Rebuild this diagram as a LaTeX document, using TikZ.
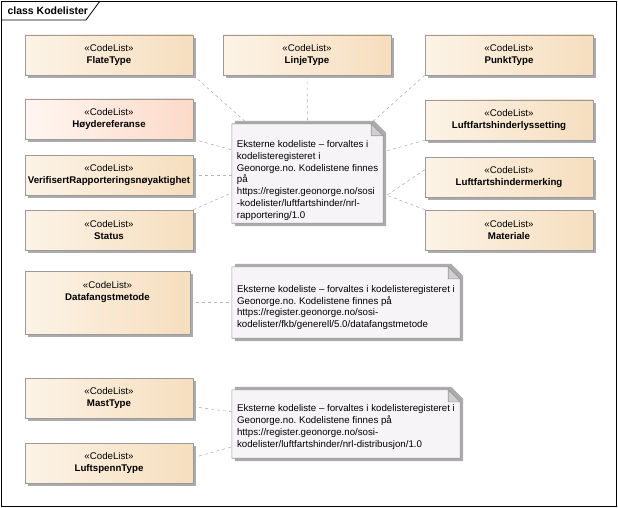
\documentclass[tikz,border=0pt]{standalone}
\usepackage{fontspec}
\setmainfont{Liberation Sans}
\usetikzlibrary{positioning,shadows,backgrounds,calc}
\definecolor{cClsL}{HTML}{FCF3E6}
\definecolor{cClsR}{HTML}{F6DEBE}
\definecolor{cRefL}{HTML}{FFF6F1}
\definecolor{cRefR}{HTML}{FCDAC8}
\definecolor{cBorder}{HTML}{9A9A9A}
\definecolor{cShadow}{HTML}{ABABAB}
\definecolor{cNote}{HTML}{F7F4F7}
\definecolor{cFold}{HTML}{D0D0D0}
\definecolor{cLink}{HTML}{B4B4B4}
\newcommand{\codelist}[1]{«CodeList»\\\textbf{#1}}
\newcommand{\toppad}[1]{\rule{0pt}{#1}}
\frenchspacing

\begin{document}
\begin{tikzpicture}[x=1pt, y=-1pt,
    font=\fontsize{9.7}{12.5}\selectfont,
    cls/.style={rectangle, draw=cBorder, line width=0.6pt,
      left color=cClsL, right color=cClsR,
      minimum width=168pt, minimum height=40pt, align=center, inner sep=2pt,
      drop shadow={shadow xshift=3pt, shadow yshift=-3pt, fill=cShadow, opacity=1}},
    ref/.style={cls, left color=cRefL, right color=cRefR},
    note/.style={rectangle, align=left, inner sep=0pt,
      font=\fontsize{9.7}{11.8}\selectfont},
    link/.style={draw=cLink, line width=0.6pt, dash pattern=on 3pt off 3pt}]

    \useasboundingbox (0,0) rectangle (618,508);
    \draw[line width=0.8pt] (1,1) rectangle (616,506);
    \draw[line width=0.8pt] (1,20) -- (86,20) -- (100,1);
    \node[anchor=west, font=\fontsize{10.5}{12}\selectfont\bfseries] (title) at (4,10.5) {class Kodelister};

    % left column
    \node[cls] (flate)  at (109,55)  {\codelist{FlateType}};
    \node[ref] (hoyde)  at (109,119) {\codelist{Høydereferanse}};
    \node[cls] (verif)  at (109,175) {\codelist{VerifisertRapporteringsnøyaktighet}};
    \node[cls] (status) at (109,230) {\codelist{Status}};
    \node[cls, minimum width=165pt, minimum height=63pt] (fangst) at (107.5,302.5)
      {\codelist{Datafangstmetode}\\\rule{0pt}{20pt}};
    \node[cls] (mast)   at (109,398) {\codelist{MastType}};
    \node[cls] (spenn)  at (109,463) {\codelist{LuftspennType}};

    % middle and right column
    \node[cls] (linje)  at (307,55)  {\codelist{LinjeType}};
    \node[cls] (punkt)  at (509,55)  {\codelist{PunktType}};
    \node[cls] (lys)    at (509,120) {\codelist{Luftfartshinderlyssetting}};
    \node[cls] (merk)   at (509,177) {\codelist{Luftfartshindermerking}};
    \node[cls] (mat)    at (509,230) {\codelist{Materiale}};

    % notes
    \node[note, minimum width=151pt, minimum height=99pt] (nrap) at (307.5,173.5)
      {\toppad{21pt}Eksterne kodeliste – forvaltes i\\ kodelisteregisteret i\\ Geonorge.no. Kodelistene finnes\\ på\\
       https://register.geonorge.no/sosi\\ -kodelister/luftfartshinder/nrl-\\ rapportering/1.0};
    \node[note, minimum width=228pt, minimum height=71pt] (nfkb) at (346,302.5)
      {\toppad{17pt}Eksterne kodeliste – forvaltes i kodelisteregisteret i\\ Geonorge.no. Kodelistene finnes på\\
       https://register.geonorge.no/sosi-\\ kodelister/fkb/generell/5.0/datafangstmetode};
    \node[note, minimum width=228pt, minimum height=68pt] (ndist) at (346,424)
      {\toppad{13pt}Eksterne kodeliste – forvaltes i kodelisteregisteret i\\ Geonorge.no. Kodelistene finnes på\\
       https://register.geonorge.no/sosi-\\ kodelister/luftfartshinder/nrl-distribusjon/1.0};

    \begin{scope}[on background layer]
      % note links
      \draw[link] (flate.south east) -- ([xshift=16pt]nrap.north west);
      \draw[link] (linje.south) -- (nrap.north);
      \draw[link] (punkt.south west) -- ([xshift=-13pt]nrap.north east);
      \draw[link] (hoyde.south east) -- ([yshift=-26pt]nrap.north west);
      \draw[link] (verif.east) -- (verif.east -| nrap.west);
      \draw[link] (status.north east) -- ([yshift=-69pt]nrap.north west);
      \draw[link] (lys.south west) -- ([yshift=-28pt]nrap.north east);
      \draw[link] ([yshift=-13pt]merk.north west) -- ([yshift=-74pt]nrap.north east);
      \draw[link] (mat.north west) -- ([yshift=-70pt]nrap.north east);
      \draw[link] (fangst.east) -- (nfkb.west);
      \draw[link] ([yshift=-29pt]mast.north east) -- ([yshift=-22pt]ndist.north west);
      \draw[link] ([yshift=-15pt]spenn.north east) -- ([yshift=-57pt]ndist.north west);
      % note bodies with folded corner
      \foreach \n in {nrap,nfkb,ndist}{
        \fill[cShadow] ([shift={(3pt,3pt)}]\n.north west) -- ([shift={(-9pt,3pt)}]\n.north east)
          -- ([shift={(3pt,-9pt)}]\n.north east) -- ([shift={(3pt,-3pt)}]\n.south east)
          -- ([shift={(3pt,-3pt)}]\n.south west) -- cycle;
        \draw[cBorder, fill=cNote, line width=0.6pt] (\n.north west) -- ([xshift=-12pt]\n.north east)
          -- ([yshift=-12pt]\n.north east) -- (\n.south east) -- (\n.south west) -- cycle;
        \draw[cBorder, fill=cFold, line width=0.6pt] ([xshift=-12pt]\n.north east)
          -- ([shift={(-12pt,-12pt)}]\n.north east) -- ([yshift=-12pt]\n.north east) -- cycle;
      }
    \end{scope}
\end{tikzpicture}
\end{document}
